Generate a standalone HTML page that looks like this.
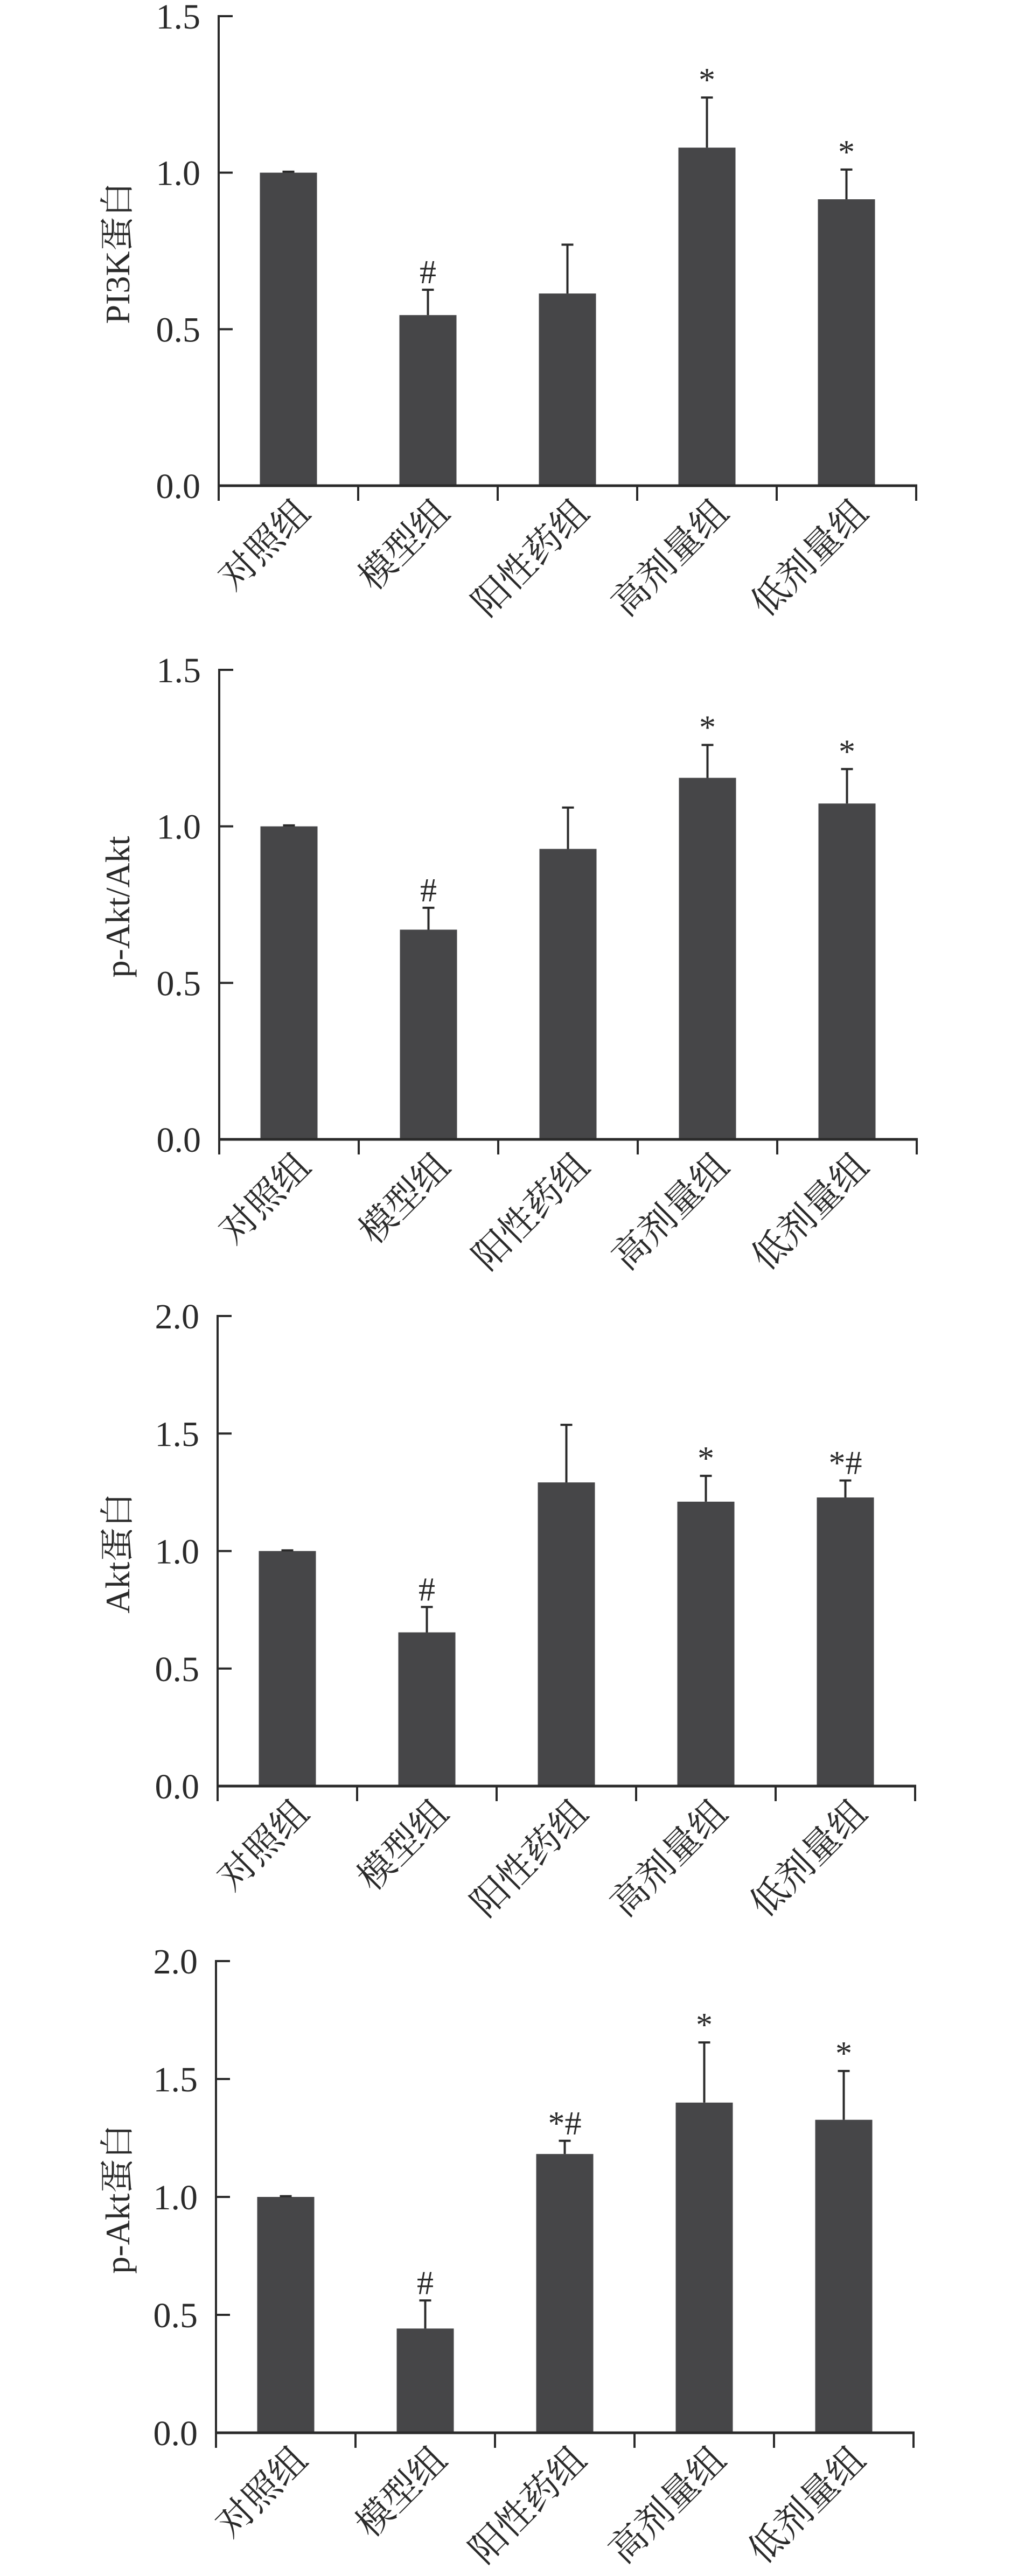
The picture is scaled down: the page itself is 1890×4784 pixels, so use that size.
<!DOCTYPE html>
<html><head><meta charset="utf-8">
<style>
html,body{margin:0;padding:0;background:#fff;}
svg{display:block;}
text{font-family:"Liberation Serif","Noto Serif CJK SC","Noto Sans CJK SC",serif;fill:#2a2a2a;}
</style></head>
<body>
<svg id="fig" width="1890" height="4784" viewBox="0 0 1890 4784" xmlns="http://www.w3.org/2000/svg"></svg>
<script>
const categories = ["对照组","模型组","阳性药组","高剂量组","低剂量组"];

const pi3kValues = [1.0, 0.545, 0.614, 1.08, 0.915];
const pi3kErr = [1.003, 0.626, 0.77, 1.24, 1.01];
const pi3kMarks = ["", "#", "", "*", "*"];
const pi3kTicks = ["0.0","0.5","1.0","1.5"];

const pAktAktValues = [1.0, 0.67, 0.928, 1.155, 1.073];
const pAktAktErr = [1.003, 0.74, 1.06, 1.26, 1.183];
const pAktAktMarks = ["", "#", "", "*", "*"];
const pAktAktTicks = ["0.0","0.5","1.0","1.5"];

const aktValues = [1.0, 0.654, 1.292, 1.21, 1.228];
const aktErr = [1.003, 0.762, 1.537, 1.32, 1.30];
const aktMarks = ["", "#", "", "*", "*#"];
const aktTicks = ["0.0","0.5","1.0","1.5","2.0"];

const pAktValues = [1.0, 0.442, 1.182, 1.40, 1.327];
const pAktErr = [1.003, 0.561, 1.238, 1.655, 1.534];
const pAktMarks = ["", "#", "*#", "*", "*"];
const pAktTicks = ["0.0","0.5","1.0","1.5","2.0"];

const NS = "http://www.w3.org/2000/svg";
const svg = document.getElementById("fig");
function mk(tag, attrs, parent){
  const e = document.createElementNS(NS, tag);
  for (const k in attrs) e.setAttribute(k, attrs[k]);
  (parent||svg).appendChild(e);
  return e;
}

function drawChart(id, title, axisX, zeroY, plotH, ticks, values, errs, marks){
  const g = mk("g", {});
  
  
  const maxV = parseFloat(ticks[ticks.length-1]);
  const yScale = v => zeroY - v / maxV * plotH;
  const step = 259;
  const xCenter = i => axisX + step * i + step / 2;
  const barW = 106;
  const col = "#2a2a2a";

  values.forEach((v, i) => {
    const r = mk("rect", {x: xCenter(i) - barW/2, y: yScale(v), width: barW, height: zeroY - yScale(v), fill: "#464648"}, g);
    
    
  });
  errs.forEach((e, i) => {
    const cx = xCenter(i);
    const l = mk("line", {x1: cx, x2: cx, y1: yScale(values[i]), y2: yScale(e), stroke: col, "stroke-width": 4}, g);
    
    
    const c = mk("line", {x1: cx - 11, x2: cx + 11, y1: yScale(e), y2: yScale(e), stroke: col, "stroke-width": 4}, g);
    
    
    if (marks[i]) {
      const t = mk("text", {x: cx, y: yScale(e) - 12, "text-anchor": "middle", "font-size": 62}, g);
      t.textContent = marks[i];
      
      
    }
  });
  const ya = mk("line", {x1: axisX, x2: axisX, y1: yScale(maxV) - 2, y2: zeroY + 28, stroke: col, "stroke-width": 4}, g);
  
  
  ticks.forEach(tl => {
    const v = parseFloat(tl);
    const y = yScale(v);
    const tk = mk("line", {x1: axisX, x2: axisX + 26, y1: y, y2: y, stroke: col, "stroke-width": 4}, g);
    
    
    const t = mk("text", {x: axisX - 34, y: y + 23, "text-anchor": "end", "font-size": 66}, g);
    t.textContent = tl;
    
    
  });
  const xa = mk("line", {x1: axisX - 2, x2: axisX + step * categories.length + 2, y1: zeroY, y2: zeroY, stroke: col, "stroke-width": 5}, g);
  
  
  for (let i = 0; i <= categories.length; i++) {
    const tk = mk("line", {x1: axisX + step * i, x2: axisX + step * i, y1: zeroY, y2: zeroY + 28, stroke: col, "stroke-width": 4}, g);
    
    
  }
  categories.forEach((c, i) => {
    const x = xCenter(i) + 44, y = zeroY + 54;
    const t = mk("text", {x: x, y: y, "text-anchor": "end", "font-size": 68, transform: "rotate(-45 " + x + " " + y + ")"}, g);
    t.textContent = c;
    
    
  });
  const tx = 240, ty = zeroY - plotH / 2 + 4;
  const yt = mk("text", {x: tx, y: ty, "text-anchor": "middle", "font-size": 64, transform: "rotate(-90 " + tx + " " + ty + ")"}, g);
  yt.textContent = title;
  
  
}

drawChart("pi3k", "PI3K蛋白", 406, 902, 872, pi3kTicks, pi3kValues, pi3kErr, pi3kMarks);
drawChart("p-akt-akt", "p-Akt/Akt", 407, 2116, 872, pAktAktTicks, pAktAktValues, pAktAktErr, pAktAktMarks);
drawChart("akt", "Akt蛋白", 404, 3317, 873, aktTicks, aktValues, aktErr, aktMarks);
drawChart("p-akt", "p-Akt蛋白", 401, 4518, 876, pAktTicks, pAktValues, pAktErr, pAktMarks);
</script>
</body></html>
